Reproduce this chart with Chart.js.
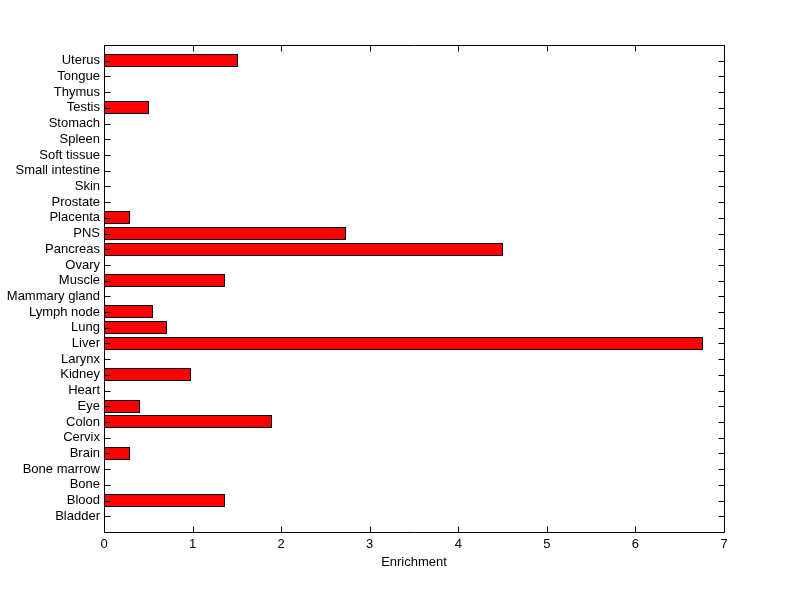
<!DOCTYPE html>
<html><head><meta charset="utf-8">
<script src="https://cdn.jsdelivr.net/npm/chart.js@4/dist/chart.umd.min.js"></script>
<style>html,body{margin:0;padding:0;background:#fff;}</style>
</head><body>
<canvas id="c" width="800" height="599" style="display:block;width:800px;height:599px"></canvas>
<script>
const categories = ['Bladder','Blood','Bone','Bone marrow','Brain','Cervix','Colon','Eye','Heart','Kidney','Larynx','Liver','Lung','Lymph node','Mammary gland','Muscle','Ovary','Pancreas','PNS','Placenta','Prostate','Skin','Small intestine','Soft tissue','Spleen','Stomach','Testis','Thymus','Tongue','Uterus'];
const enrichment = [0,1.36,0,0,0.286,0,1.89,0.40,0,0.975,0,6.755,0.70,0.54,0,1.36,0,4.49,2.725,0.286,0,0,0,0,0,0,0.50,0,0,1.505];
const xTicks = [0,1,2,3,4,5,6,7];
const xTitle = 'Enrichment';

const FONT = {family: 'Arial, "Liberation Sans", Helvetica, sans-serif', size: 13};

// snap bar edges to whole pixels so the 1px black outlines stay crisp
const snapPlugin = {
  id: 'snap',
  beforeDatasetsDraw(chart) {
    chart.getDatasetMeta(0).data.forEach(bar => {
      const h = Math.round(bar.height);
      const top = Math.round(bar.y - bar.height / 2);
      bar.height = h;
      bar.y = top + h / 2;
      bar.x = Math.round(bar.x) + 1;
      bar.base = Math.round(bar.base);
    });
  }
};

const framePlugin = {
  id: 'frame',
  afterDraw(chart) {
    const {ctx, chartArea: a, scales: {x, y}} = chart;
    ctx.save();
    ctx.strokeStyle = '#000';
    ctx.lineWidth = 1;
    ctx.beginPath();
    const L = a.left + 0.5, R = a.right + 0.5, T = a.top + 0.5, B = a.bottom + 0.5;
    ctx.rect(L, T, R - L, B - T);
    const tl = 6;
    x.ticks.forEach(t => {
      const px = Math.round(x.getPixelForValue(t.value)) + 0.5;
      ctx.moveTo(px, B); ctx.lineTo(px, B - tl);
      ctx.moveTo(px, T); ctx.lineTo(px, T + tl);
    });
    y.ticks.forEach(t => {
      const py = Math.round(y.getPixelForValue(t.value)) + 0.5;
      ctx.moveTo(L, py); ctx.lineTo(L + tl, py);
      ctx.moveTo(R, py); ctx.lineTo(R - tl, py);
    });
    ctx.stroke();
    ctx.restore();
  }
};

new Chart(document.getElementById('c'), {
  type: 'bar',
  data: {
    datasets: [{
      data: categories.map((c, i) => ({x: enrichment[i], y: i + 1})),
      backgroundColor: '#ff0000',
      borderColor: '#000000',
      borderWidth: 1,
      borderSkipped: false,
      barPercentage: 0.85,
      categoryPercentage: 1.0
    }]
  },
  options: {
    indexAxis: 'y',
    responsive: false,
    animation: false,
    layout: {padding: {left: 0, right: 76, top: 45, bottom: 0}},
    plugins: {legend: {display: false}, tooltip: {enabled: false}},
    scales: {
      x: {
        type: 'linear',
        min: 0, max: 7,
        offset: false,
        afterBuildTicks: s => { s.ticks = xTicks.map(v => ({value: v})); },
        afterFit: s => { s.height = 67; },
        grid: {display: false, drawTicks: false, offset: false},
        border: {display: false},
        ticks: {color: '#000', font: FONT, padding: 5, maxRotation: 0},
        title: {display: true, text: xTitle, color: '#000', font: FONT, padding: {top: 0, bottom: 29}}
      },
      y: {
        type: 'linear',
        min: 0, max: 31,
        offset: false,
        afterBuildTicks: s => { s.ticks = categories.map((c, i) => ({value: i + 1})); },
        afterFit: s => { s.width = 104; },
        grid: {display: false, drawTicks: false, offset: false},
        border: {display: false},
        ticks: {color: '#000', font: FONT, padding: 4, autoSkip: false,
          callback: v => categories[v - 1] !== undefined ? categories[v - 1] : ''}
      }
    }
  },
  plugins: [snapPlugin, framePlugin]
});
</script>
</body></html>
